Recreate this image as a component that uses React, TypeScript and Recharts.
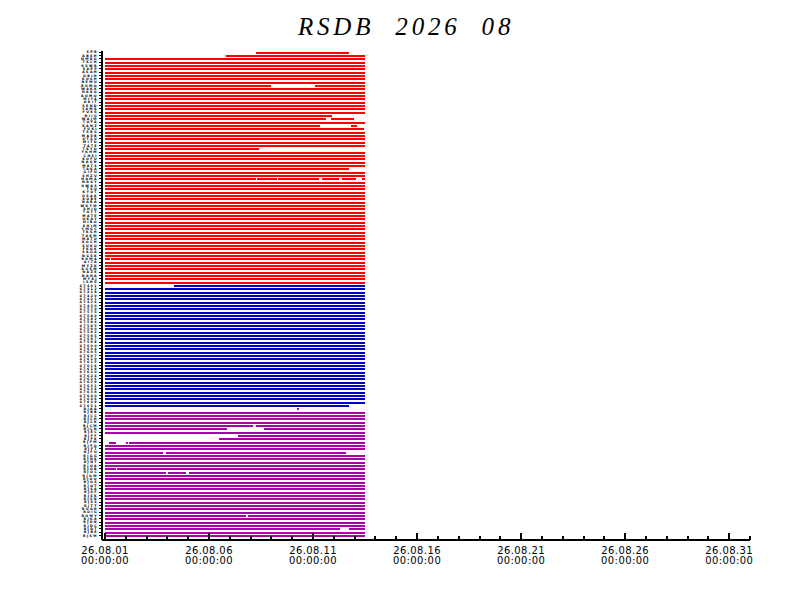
import React from 'react';
import { BarChart, Bar, XAxis, YAxis, Cell } from 'recharts';

type Seg = [number, number];

// days after 26.08.01 00:00; data runs to 26.08.13 12:00
const FULL: Seg[] = [[0, 12.5]];

const redStations = [
  'SPR', 'ABSH', 'NMRO', 'TKCH', 'KSWR', 'SAPP', 'ASAH', 'OBIH', 'KUSH', 'NEMU',
  'RUMO', 'WAKK', 'HAKO', 'AOMO', 'MIYA', 'AKIT', 'SEND', 'YAMA', 'FUKS', 'NIIG',
  'WAJM', 'TOYA', 'KANZ', 'FUKI', 'TSRG', 'MAEB', 'UTSU', 'MITO', 'TATE', 'TKYO',
  'YKHM', 'CHSI', 'KOFU', 'NAGN', 'MATS', 'TAKA', 'GIFU', 'SHZU', 'HAMA', 'NAGY',
  'OWAS', 'TSU', 'KYOT', 'OSAK', 'KOBE', 'NARA', 'WKYM', 'SHIO', 'TOTT', 'MATE',
  'OKAY', 'HIRO', 'SHIM', 'YMGC', 'TKSH', 'TAKM', 'MATU', 'KOCH', 'SUKU', 'FKOK',
  'SAGA', 'NGSK', 'KUMA', 'OITA', 'MYZK', 'KGSM', 'NAZE', 'NAHA', 'MYKJ', 'ISHG',
];

const blueStations = [
  '47401', '47412', '47418', '47420', '47421', '47426', '47430', '47570', '47575', '47580',
  '47582', '47584', '47585', '47590', '47592', '47595', '47597', '47598', '47600', '47604',
  '47605', '47607', '47610', '47615', '47616', '47618', '47620', '47624', '47626', '47629',
  '47631', '47636', '47638', '47640', '47646', '47648', '47651',
];

const magentaStations = [
  'RJAA', 'RJBB', 'RJCC', 'RJCH', 'RJCK', 'RJCM', 'RJCN', 'RJEC', 'RJFF', 'RJFK',
  'RJFM', 'RJFO', 'RJFT', 'RJFU', 'RJGG', 'RJNK', 'RJNT', 'RJOA', 'RJOB', 'RJOC',
  'RJOM', 'RJOO', 'RJOS', 'RJOT', 'RJSA', 'RJSF', 'RJSK', 'RJSN', 'RJSS', 'RJTT',
  'ROAH', 'ROIG', 'ROMY', 'RJKA', 'RJKN', 'RJDC', 'RJDT', 'RJBE', 'RJSM',
];

const redCoverage: Seg[][] = [
  [[7.26, 11.73]], [[5.82, 12.5]],
  FULL, FULL, FULL, FULL, FULL, FULL, FULL, FULL,
  [[0, 7.98], [10.1, 12.5]],
  FULL, FULL, FULL, FULL, FULL, FULL, FULL, FULL,
  [[0, 10.9]],
  [[0, 10.63], [10.87, 11.97]],
  FULL,
  [[0, 10.34], [11.83, 12.12]],
  [[0, 12.45]],
  FULL, FULL, FULL, FULL, FULL,
  [[0, 7.4]],
  FULL, FULL, FULL, FULL, FULL,
  [[0, 11.73]],
  FULL, FULL,
  [[0, 7.26], [7.31, 8.27], [8.32, 10.29], [10.43, 11.25], [11.39, 12.07], [12.36, 12.5]],
  FULL, FULL, FULL, FULL, FULL, FULL, FULL, FULL, FULL, FULL,
  FULL, FULL, FULL, FULL, FULL, FULL, FULL, FULL, FULL, FULL,
  FULL, FULL, FULL,
  [[0, 0.24], [0.29, 12.5]],
  FULL, FULL, FULL, FULL, FULL, FULL, FULL,
];

const blueCoverage: Seg[][] = [
  [[3.32, 12.5]],
  FULL, FULL, FULL, FULL, FULL, FULL, FULL, FULL, FULL, FULL,
  FULL, FULL, FULL, FULL, FULL, FULL, FULL, FULL, FULL, FULL,
  FULL, FULL, FULL, FULL, FULL, FULL, FULL, FULL, FULL, FULL,
  FULL, FULL, FULL, FULL, FULL,
  [[0, 11.73]],
];

const magentaCoverage: Seg[][] = [
  [[9.25, 9.3]],
  FULL, FULL, FULL, FULL,
  [[0, 7.09], [7.28, 12.5]],
  [[0, 5.87], [7.64, 12.5]],
  FULL,
  [[6.4, 12.5]],
  [[5.48, 12.5]],
  [[0.19, 0.53], [0.99, 1.1], [1.15, 12.5]],
  FULL, FULL,
  [[0, 2.77], [2.93, 11.59]],
  FULL, FULL, FULL, FULL,
  [[0, 0.53], [0.58, 12.5]],
  [[0, 2.93], [3.03, 3.89], [4.04, 12.5]],
  FULL, FULL, FULL, FULL, FULL, FULL, FULL, FULL, FULL, FULL, FULL, FULL,
  [[0, 6.8], [6.87, 12.5]],
  FULL, FULL, FULL,
  [[0, 11.3], [11.73, 12.5]],
  FULL, FULL,
];

const xTicks = [0, 1, 2, 3, 4, 5, 6, 7, 8, 9, 10, 11, 12, 13, 14, 15, 16, 17, 18, 19, 20, 21, 22, 23, 24, 25, 26, 27, 28, 29, 30, 31];
const xLabels: Record<number, [string, string]> = {
  0: ['26.08.01', '00:00:00'],
  5: ['26.08.06', '00:00:00'],
  10: ['26.08.11', '00:00:00'],
  15: ['26.08.16', '00:00:00'],
  20: ['26.08.21', '00:00:00'],
  25: ['26.08.26', '00:00:00'],
  30: ['26.08.31', '00:00:00'],
};

const MAX_SEGS = 6;

const groups = [
  { names: redStations, coverage: redCoverage, color: '#ff0000' },
  { names: blueStations, coverage: blueCoverage, color: '#0000c0' },
  { names: magentaStations, coverage: magentaCoverage, color: '#aa00aa' },
];

const rows = groups.flatMap((g) =>
  g.names.map((name, i) => {
    const row: Record<string, any> = { name, color: g.color };
    for (let k = 0; k < MAX_SEGS; k++) {
      row[`gap${k}`] = 0;
      row[`on${k}`] = 0;
    }
    let prev = 0;
    g.coverage[i].forEach(([a, b], k) => {
      row[`gap${k}`] = a - prev;
      row[`on${k}`] = b - a;
      prev = b;
    });
    return row;
  })
);

function DayTick(props: any) {
  const { x, y, payload } = props;
  const label = xLabels[payload.value];
  const major = label !== undefined;
  const textStyle = { fontFamily: 'DejaVu Sans', fontSize: 10, letterSpacing: 0.4, fill: '#000' };
  return (
    <g>
      <line x1={x} x2={x} y1={y} y2={y - (major ? 6.5 : 3.5)} stroke="#000" strokeWidth={2} />
      {major && (
        <text x={x} y={y + 14} textAnchor="middle" style={textStyle}>
          {label[0]}
        </text>
      )}
      {major && (
        <text x={x} y={y + 24.5} textAnchor="middle" style={textStyle}>
          {label[1]}
        </text>
      )}
    </g>
  );
}

function StationTick(props: any) {
  const { x, y, payload } = props;
  return (
    <text
      x={x}
      y={y + 1.2}
      textAnchor="end"
      fontFamily="DejaVu Sans"
      fontWeight="bold"
      fontSize={3.3}
      letterSpacing={1.4}
      fill="#000"
    >
      {payload.value}
    </text>
  );
}

export default function App() {
  const segBars = [];
  for (let k = 0; k < MAX_SEGS; k++) {
    segBars.push(
      <Bar key={`gap${k}`} dataKey={`gap${k}`} stackId="s" fill="none" barSize={2} isAnimationActive={false} />
    );
    segBars.push(
      <Bar key={`on${k}`} dataKey={`on${k}`} stackId="s" barSize={2} isAnimationActive={false}>
        {rows.map((r, i) => (
          <Cell key={`c-${k}-${i}`} fill={r.color} />
        ))}
      </Bar>
    );
  }

  return (
    <div style={{ position: 'absolute', left: 0, top: 0, width: 792, height: 612, background: '#fff' }}>
      <div
        style={{
          position: 'absolute',
          left: 298,
          top: 15,
          fontFamily: 'Liberation Serif',
          fontStyle: 'italic',
          fontSize: 25,
          lineHeight: '24px',
          letterSpacing: 3.8,
          wordSpacing: 11,
          whiteSpace: 'pre',
          color: '#000',
        }}
      >
        RSDB 2026 08
      </div>
      <BarChart
        width={792}
        height={612}
        data={rows}
        layout="vertical"
        margin={{ top: 50.6, right: 42, bottom: 32.5, left: 62 }}
        style={{ shapeRendering: 'crispEdges' }}
      >
        <XAxis
          type="number"
          domain={[0, 31]}
          ticks={xTicks}
          interval={0}
          allowDataOverflow
          padding={{ left: 3, right: 0 }}
          height={40}
          tickSize={0}
          tickMargin={0}
          tickLine={false}
          axisLine={{ stroke: '#000', strokeWidth: 2 }}
          tick={<DayTick />}
        />
        <YAxis
          type="category"
          dataKey="name"
          width={40}
          interval={0}
          padding={{ top: 0, bottom: 2.2 }}
          tickSize={3}
          tickMargin={1}
          tickLine={{ stroke: '#000' }}
          axisLine={{ stroke: '#000', strokeWidth: 2 }}
          tick={<StationTick />}
        />
        {segBars}
      </BarChart>
    </div>
  );
}
